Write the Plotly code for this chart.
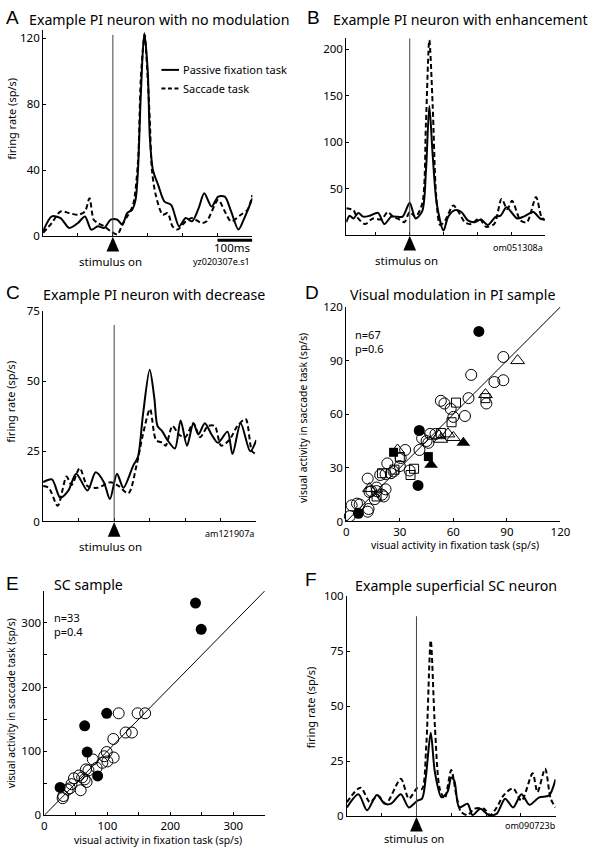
import plotly.graph_objects as go

W, H = 590, 852
FONT = "Noto Sans"

# ---------------- data ----------------
# Panel A: example PI neuron, no modulation (time in ms, rate sp/s)
A_t_fix = [-200,-175,-150,-125,-100,-80,-62,-43,-25,-6,13,27,41,55,65,72,80,90,100,106,
           115,130,148,167,190,209,227,246,262,283,302,321,339,360,377,400]
A_fix = [3,12,11,5,8,12,4,6,5,10,10,7,14,16,22,40,85,123,100,60,
         40,31,21,19,6,11,9,17,26,18,24,24,15,4,11,23]
A_t_sac = [-200,-175,-150,-125,-100,-80,-67,-55,-43,-25,-6,13,27,44,58,72,80,91,100,106,
           112,123,143,157,171,185,209,227,255,269,302,321,339,367,386,400]
A_sac = [2,8,15,14,13,15,23,10,8,6,3,1,7,13,19,45,95,122,95,70,
         40,25,13,14,6,4,9,11,8,9,22,15,9,13,16,25]

# Panel B: enhancement
B_t_fix = [-188,-178,-167,-152,-138,-118,-94,-75,-55,-41,-21,0,17,37,48,58,68,80,100,114,
           134,153,172,192,211,231,255,269,287,318,337,366,386,400]
B_fix = [14,21,18,24,20,21,24,12,20,20,20,35,18,26,69,139,86,34,5,20,
         27,25,16,14,17,11,20,21,30,18,20,25,18,17]
B_t_sac = [-188,-167,-157,-133,-109,-84,-65,-50,-31,-16,0,17,37,48,58,68,78,90,105,129,
           148,163,182,206,226,250,272,289,303,328,347,374,390,400]
B_sac = [29,27,20,12,18,17,25,20,17,14,25,20,34,121,210,139,44,11,16,32,
         23,14,12,18,9,12,39,28,37,16,14,41,20,16]

# Panel C: decrease
C_t_fix = [-200,-175,-152,-129,-107,-75,-52,-29,-12,8,26,54,67,81,100,113,122,136,150,171,
           187,205,223,237,255,274,292,319,333,356,383,400]
C_fix = [14,15,8.5,11,17,11,17.5,14,8,17,12,20,23,38,54,44,34,32,29,26,
         36,27,35,31,35,31,28,32,24,35,25,29]
C_t_sac = [-200,-184,-159,-134,-120,-97,-75,-47,-10,13,40,63,81,101,118,136,145,164,182,200,
           223,242,264,283,301,324,347,370,388,400]
C_sac = [12.6,12,5.6,16,13,19,12.6,12,14,12.6,10,20,31,40,29,28,27,34,31,30,
         35,30,34,34,27,29,34,36.5,25,24]

# Panel F: superficial SC neuron
F_t_fix = [-200,-167,-142,-114,-92,-73,-45,-22,2,16,27,41,53,72,89,100,109,123,147,161,
           184,208,231,255,278,302,325,353,381,400]
F_fix = [4,10,2.7,9.7,5.7,5.7,10,4,7,8,18,38,20,8.6,11,17.6,16,4,5.7,0.5,
         3.4,0.5,1.2,8,4,10,5.2,8.6,9.4,16.8]
F_t_sac = [-200,-161,-134,-111,-88,-45,-22,2,16,28,41,53,67,81,100,114,128,147,166,194,
           212,231,250,278,302,334,348,370,386,400]
F_sac = [6.4,13,6.4,9.4,5.7,17,8,12.7,12.4,31.7,80,40.7,12.4,8,21,10,2,0.5,3.4,3.4,
         0.5,4,9.4,12.7,7,19.5,11,21.6,8,4]

# Panel D: PI sample (fixation x, saccade y)
D_oc_x = [88,70,83,88,78.5,68.5,53,55,58.5,60,66.5,47,50,46,42.5,41,33,30.5,23,26.5,
          35.5,19,22,12,13,17,16,20,22,21,14,12.5,2,3,6,7.5,12,17,30,45,25]
D_oc_y = [92,82,78,79,66,69,67.5,66,63,58.5,59,49,49,44,46.5,40,40,35.5,32.5,28,
          28.5,26,26.5,24,16.5,19,12.5,15,18,14,17,7,3,9,10,9.5,5.5,17,31,45,27]
D_ot_x = [96,78,52,57,60,53,28.7,13]
D_ot_y = [90,71,48,49,47,46,40,18.5]
D_os_x = [78,61.5,59,53,36,38,27,30,17,20]
D_os_y = [69,66.5,55.5,49.5,26,29.5,29,36,14,27]
D_fc_x = [74.3,40.9,40.2,6.8]
D_fc_y = [106.3,50.9,20.2,4.6]
D_ft_x = [65.6,47.5]
D_ft_y = [44,31.7]
D_fs_x = [26.5,46]
D_fs_y = [38.7,36.3]

# Panel E: SC sample
E_fc_x = [240,249,99,64,68,84.6,25]
E_fc_y = [331,290,159,139.5,98.6,61.3,43.4]
E_oc_x = [118,148,160,129,139,109.5,99,95,110,100,92,77,83,70,66,64,67,60,47,57.6,
          43,40.5,29,55,30,37]
E_oc_y = [159,159,159,129,129,119,98.6,92,90,84,81.8,87,74,70,71.5,56,52,59,57.7,39,
          48.5,42,26.6,62,30,40]

# tick labels
E_ticks = [0, 50, 100, 150, 200, 250, 300, 350]
E_ticktext = ["0", "", "100", "", "200", "", "300", ""]

# ---------------- layout helpers ----------------
def fx(p):
    return p / W

def fy(p):
    return 1 - p / H

panels = {
    "A": dict(xp=(41, 255), yp=(22.3, 232.3), xr=[-200, 400], yr=[0, 125],
              yt=[0, 40, 80, 120], xt=[-100, 0, 100, 200, 300, 400], xl=False),
    "B": dict(xp=(351, 554), yp=(30.7, 231.3), xr=[-188, 400], yr=[0, 212],
              yt=[50, 100, 150, 200], xt=[-100, 0, 100, 200, 300, 400], xl=False),
    "C": dict(xp=(41, 259), yp=(308.3, 522.7), xr=[-200, 400], yr=[0, 75],
              yt=[0, 25, 50, 75], xt=[-100, 0, 100, 200, 300, 400], xl=False),
    "D": dict(xp=(351, 570), yp=(304.3, 522.7), xr=[0, 120], yr=[0, 120],
              yt=[0, 30, 60, 90, 120], xt=[0, 30, 60, 90, 120], xl=True),
    "E": dict(xp=(42.3, 267.7), yp=(593.3, 821.7), xr=[0, 350], yr=[0, 350],
              yt=E_ticks, xt=E_ticks, xl=True, tt=E_ticktext),
    "F": dict(xp=(351.7, 565), yp=(599, 822.7), xr=[-200, 400], yr=[0, 100],
              yt=[0, 25, 50, 75, 100], xt=[-100, 0, 100, 200, 300, 400], xl=False),
}
order = ["A", "B", "C", "D", "E", "F"]
axid = {k: ("" if i == 0 else str(i + 1)) for i, k in enumerate(order)}

fig = go.Figure()
layout = dict(width=W, height=H, margin=dict(l=0, r=0, t=0, b=0),
              paper_bgcolor="white", plot_bgcolor="white", showlegend=False,
              font=dict(family=FONT, color="black", size=11))

for k in order:
    p = panels[k]
    i = axid[k]
    xa = dict(
        domain=[fx(p["xp"][0]), fx(p["xp"][1])], range=p["xr"], anchor="y" + i,
        showgrid=False, zeroline=False, showline=True, linecolor="black", linewidth=1,
        ticks="inside", ticklen=3, tickcolor="black", tickvals=p["xt"],
        showticklabels=p["xl"], tickfont=dict(size=11.5, family=FONT))
    ya = dict(
        domain=[fy(p["yp"][1]), fy(p["yp"][0])], range=p["yr"], anchor="x" + i,
        showgrid=False, zeroline=False, showline=True, linecolor="black", linewidth=1,
        ticks="inside", ticklen=3, tickcolor="black", tickvals=p["yt"],
        tickfont=dict(size=11.5, family=FONT))
    if "tt" in p:
        xa["ticktext"] = p["tt"]
        ya["ticktext"] = p["tt"]
    layout["xaxis" + i] = xa
    layout["yaxis" + i] = ya

def line_trace(k, t, v, dashed):
    i = axid[k]
    return go.Scatter(x=t, y=v, mode="lines", xaxis="x" + i, yaxis="y" + i,
                      line=dict(color="black", width=2, shape="spline", smoothing=0.8,
                                dash="5px,3px" if dashed else "solid"),
                      hoverinfo="skip")

for k, tf, vf, ts, vs in [("A", A_t_fix, A_fix, A_t_sac, A_sac),
                          ("B", B_t_fix, B_fix, B_t_sac, B_sac),
                          ("C", C_t_fix, C_fix, C_t_sac, C_sac),
                          ("F", F_t_fix, F_fix, F_t_sac, F_sac)]:
    fig.add_trace(line_trace(k, ts, vs, True))
    fig.add_trace(line_trace(k, tf, vf, False))

def pts(k, x, y, symbol, size):
    i = axid[k]
    filled = not symbol.endswith("-open")
    return go.Scatter(x=x, y=y, mode="markers", xaxis="x" + i, yaxis="y" + i,
                      cliponaxis=False,
                      marker=dict(symbol=symbol, size=size, color="black",
                                  line=dict(color="black", width=1 if not filled else 0)),
                      hoverinfo="skip")

shapes = []
for k in ["D", "E"]:
    p = panels[k]
    i = axid[k]
    shapes.append(dict(type="line", xref="x" + i, yref="y" + i,
                       x0=p["xr"][0], y0=p["yr"][0], x1=p["xr"][1], y1=p["yr"][1],
                       line=dict(color="black", width=1)))

fig.add_trace(pts("D", D_oc_x, D_oc_y, "circle-open", 11))
fig.add_trace(pts("D", D_os_x, D_os_y, "square-open", 9))
fig.add_trace(pts("D", D_ot_x, D_ot_y, "triangle-up-open", 12))
fig.add_trace(pts("D", D_fc_x, D_fc_y, "circle", 11))
fig.add_trace(pts("D", D_fs_x, D_fs_y, "square", 9))
fig.add_trace(pts("D", D_ft_x, D_ft_y, "triangle-up", 12))
fig.add_trace(pts("E", E_oc_x, E_oc_y, "circle-open", 11))
fig.add_trace(pts("E", E_fc_x, E_fc_y, "circle", 11))

# stimulus onset lines and triangles (triangle drawn in paper space below the axis)
stim_top = {"A": 122, "B": 212, "C": 70, "F": 91}
for k, top in stim_top.items():
    p = panels[k]
    i = axid[k]
    shapes.append(dict(type="line", xref="x" + i, yref="y" + i, x0=0, x1=0, y0=0, y1=top,
                       line=dict(color="#444", width=1)))
    sx = p["xp"][0] + (0 - p["xr"][0]) / (p["xr"][1] - p["xr"][0]) * (p["xp"][1] - p["xp"][0])
    sy = p["yp"][1]
    path = "M{:.5f},{:.5f} L{:.5f},{:.5f} L{:.5f},{:.5f} Z".format(
        fx(sx), fy(sy + 0.5), fx(sx - 6.5), fy(sy + 15.5), fx(sx + 6.5), fy(sy + 15.5))
    shapes.append(dict(type="path", xref="paper", yref="paper", path=path,
                       fillcolor="black", line=dict(width=0)))

# scale bar in A
shapes.append(dict(type="line", xref="x", yref="paper", x0=300, x1=400,
                   y0=fy(236.5), y1=fy(236.5), line=dict(color="black", width=3)))
# legend samples in A
shapes.append(dict(type="line", xref="paper", yref="paper", x0=fx(162), x1=fx(180),
                   y0=fy(63), y1=fy(63), line=dict(color="black", width=2)))
shapes.append(dict(type="line", xref="paper", yref="paper", x0=fx(162), x1=fx(180),
                   y0=fy(82), y1=fy(82), line=dict(color="black", width=2, dash="4px,2.5px")))

ann = []
def txt(s, x, y, size=11, xa="center", ya="middle", angle=0, family=FONT):
    ann.append(dict(text=s, x=fx(x), y=fy(y), xref="paper", yref="paper",
                    xanchor=xa, yanchor=ya, textangle=angle, showarrow=False,
                    font=dict(size=size, family=family, color="black")))

for s, x, y in [("A", 1, 10), ("B", 309, 10), ("C", 1, 290), ("D", 307, 290),
                ("E", 1, 586), ("F", 307, 582)]:
    txt(s, x, y, size=19, xa="left", family="Liberation Sans")

TS = 14.2
txt("Example PI neuron with no modulation", 159.5, 12, TS)
txt("Example PI neuron with enhancement", 468, 12, TS)
txt("Example PI neuron with decrease", 154.5, 292, TS)
txt("Visual modulation in PI sample", 459.5, 292, TS)
txt("SC sample", 50, 587, TS, xa="left")
txt("Example superficial SC neuron", 463.5, 588, TS)

txt("firing rate (sp/s)", 8, 113, 11, angle=-90)
txt("firing rate (sp/s)", 8, 401, 11, angle=-90)
txt("firing rate (sp/s)", 314, 712, 11, angle=-90)
txt("visual activity in saccade task (sp/s)", 306, 417, 10.4, angle=-90)
txt("visual activity in saccade task (sp/s)", 8, 708, 10.4, angle=-90)
txt("visual activity in fixation task (sp/s)", 462.5, 547, 10.4)
txt("visual activity in fixation task (sp/s)", 158, 846.5, 10.4)

txt("stimulus on", 110, 258, 11.5)
txt("stimulus on", 413, 257, 11.5)
txt("stimulus on", 110, 548, 11.5)
txt("stimulus on", 420, 845, 11)

txt("yz020307e.s1", 255, 258, 9, xa="right")
txt("om051308a", 554, 244, 9, xa="right")
txt("am121907a", 259, 535, 9, xa="right")
txt("om090723b", 568, 832, 9, xa="right")

txt("100ms", 255, 244, 11.5, xa="right")

txt("Passive fixation task", 182, 63, 11, xa="left")
txt("Saccade task", 182, 82, 11, xa="left")

txt("n=67", 358, 332, 11, xa="left")
txt("p=0.6", 358, 347, 11, xa="left")
txt("n=33", 50, 620, 11, xa="left")
txt("p=0.4", 50, 635, 11, xa="left")

layout["shapes"] = shapes
layout["annotations"] = ann
fig.update_layout(**layout)
fig.write_html("out.html", config={"displayModeBar": False},
               post_script="document.body.style.margin='0';document.body.style.overflow='hidden';")
